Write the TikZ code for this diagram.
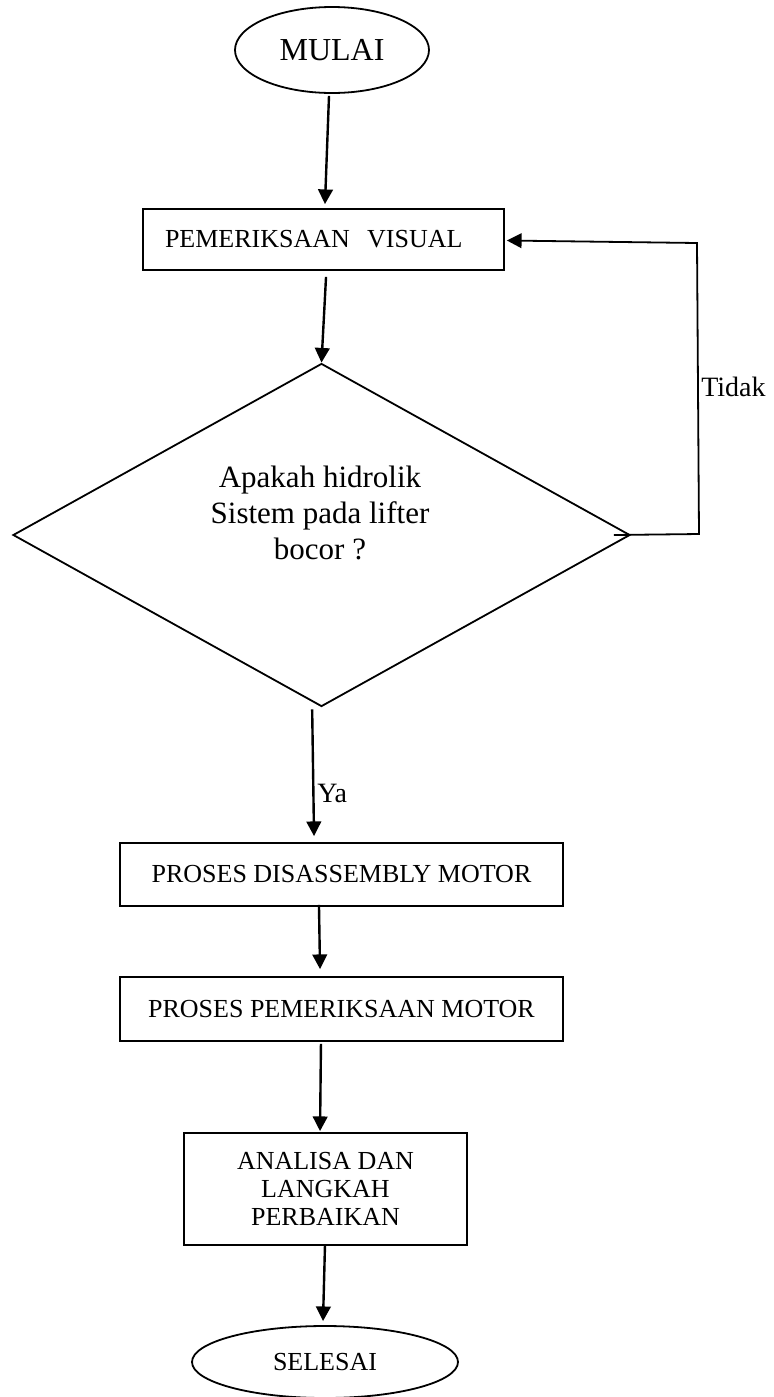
\documentclass[tikz,border=0pt]{standalone}
\usepackage{fontspec}
\setmainfont{Liberation Serif}
\usetikzlibrary{shapes.geometric,arrows.meta}
\tikzset{
  shapeline/.style={draw=black,line width=1.35pt},
  procbox/.style={shapeline,rectangle,inner sep=0pt,font=\fontsize{19.5}{21}\selectfont,align=center},
  term/.style={shapeline,ellipse,inner sep=0pt},
  arr/.style={line width=1.8pt,-{Triangle[length=11pt,width=11pt]}},
  lbl/.style={inner sep=0pt,font=\fontsize{21}{24}\selectfont}
}
\begin{document}
\begin{tikzpicture}[x=0.75pt,y=-0.75pt]
\useasboundingbox (0,0) rectangle (774,1397);
% terminals and boxes
\node[term,minimum width=145.5pt,minimum height=64.5pt,font=\fontsize{24}{28}\selectfont] (mulai) at (332,50) {MULAI};
\node[procbox,minimum height=45.75pt,text width=237.75pt,inner xsep=16.5pt,align=left] (box1) at (323.5,239.5) {PEMERIKSAAN\ \ VISUAL};
\node[shapeline,diamond,aspect=1.8,inner sep=0pt,minimum width=462.75pt,minimum height=257.25pt] (dia) at (321.5,535) {};
\node[inner sep=0pt,align=center,font=\fontsize{23.25}{27}\selectfont] (dtext) at (320,513) {Apakah hidrolik\\Sistem pada lifter\\bocor ?};
\node[procbox,minimum width=332.25pt,minimum height=47.25pt] (box2) at (341.5,874.5) {PROSES DISASSEMBLY MOTOR};
\node[procbox,minimum width=332.25pt,minimum height=48pt] (box3) at (341.5,1009) {PROSES PEMERIKSAAN MOTOR};
\node[procbox,minimum width=212.25pt,minimum height=84pt] (box4) at (325.5,1189) {ANALISA DAN\\LANGKAH\\PERBAIKAN};
\node[term,minimum width=199.5pt,minimum height=54pt,font=\fontsize{19.5}{22}\selectfont] (selesai) at (325,1362) {SELESAI};
% labels
\node[lbl,anchor=west] (ya) at (317,793) {Ya};
\node[lbl,anchor=west] (tidak) at (701,387) {Tidak};
% feedback corners
\coordinate (fb1) at (699,534);
\coordinate (fb2) at (697,243);
% connectors
\draw[arr] ([xshift=-2.25pt,yshift=-1.5pt]mulai.south) -- ([xshift=1.1pt,yshift=3pt]box1.north);
\draw[arr] ([xshift=1.9pt,yshift=-4.5pt]box1.south) -- (dia.north);
\draw[arr] ([xshift=-7pt,yshift=-1.5pt]dia.south) -- ([xshift=-20.6pt,yshift=4.5pt]box2.north);
\draw[arr] ([xshift=-16.9pt,yshift=1.5pt]box2.south) -- ([xshift=-16.1pt,yshift=5.25pt]box3.north);
\draw[arr] ([xshift=-15.4pt,yshift=-1.5pt]box3.south) -- ([xshift=-4.1pt,yshift=0.75pt]box4.north);
\draw[arr] ([xshift=-0.4pt]box4.south) -- ([xshift=-1.5pt,yshift=3pt]selesai.north);
\draw[line width=1.35pt,-{Triangle[length=11pt,width=11pt]}] ([xshift=-12.75pt]dia.east) -- (fb1) -- (fb2) -- ([xshift=1.5pt,yshift=-0.75pt]box1.east);
\end{tikzpicture}
\end{document}
